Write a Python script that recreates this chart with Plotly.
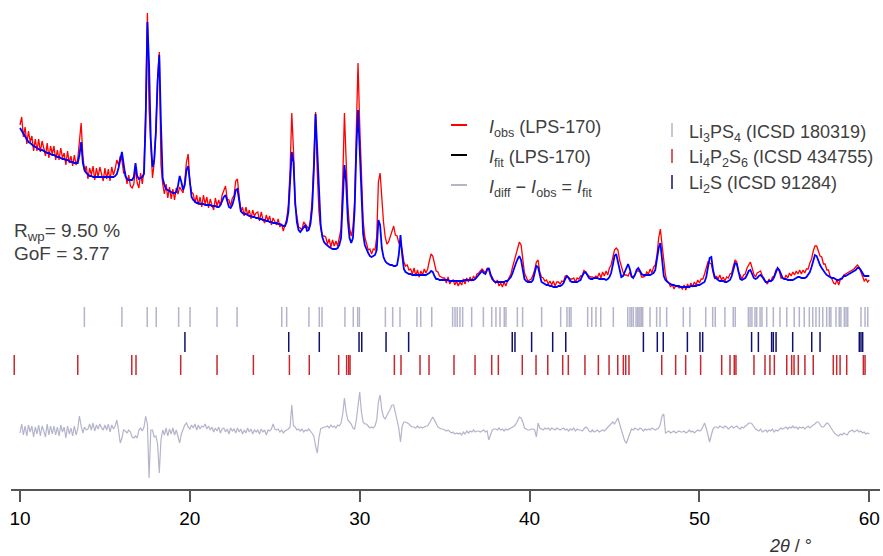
import numpy as np
import plotly.graph_objects as go

# ---------------- data ----------------
scan_start, scan_step, n_points = 10.0, 0.1, 501
two_theta = np.round(scan_start + scan_step * np.arange(n_points), 1)

I_obs = [
    175, 183, 163, 173, 156, 169, 158, 164, 149, 161,
    149, 161, 148, 159, 152, 144, 157, 142, 154, 146,
    154, 140, 150, 140, 152, 142, 147, 135, 149, 137,
    144, 134, 145, 135, 141, 160, 177, 145, 128, 134,
    121, 132, 125, 134, 120, 132, 123, 133, 126, 119,
    132, 121, 131, 119, 133, 125, 131, 140, 135, 144,
    140, 127, 128, 116, 125, 114, 112, 116, 132, 117,
    112, 127, 116, 131, 193, 287, 190, 150, 122, 137,
    170, 222, 248, 135, 116, 106, 116, 102, 113, 101,
    111, 100, 112, 106, 113, 110, 107, 119, 138, 146,
    118, 108, 106, 97, 105, 95, 103, 93, 105, 96,
    103, 92, 101, 95, 90, 102, 94, 100, 94, 105,
    109, 114, 101, 100, 94, 102, 104, 119, 121, 104,
    88, 93, 84, 93, 85, 90, 81, 90, 84, 87,
    88, 79, 88, 81, 77, 85, 79, 84, 75, 82,
    79, 75, 81, 73, 76, 69, 75, 81, 95, 130,
    187, 150, 95, 82, 73, 72, 70, 78, 76, 74,
    71, 81, 100, 140, 188, 128, 88, 72, 64, 64,
    63, 56, 61, 53, 60, 54, 59, 54, 61, 71,
    120, 187, 140, 95, 72, 64, 72, 98, 170, 237,
    175, 115, 80, 63, 57, 50, 51, 46, 51, 50,
    63, 118, 127, 100, 78, 63, 56, 58, 64, 70,
    74, 65, 64, 57, 56, 50, 38, 34, 35, 30,
    31, 26, 32, 24, 30, 23, 29, 25, 31, 27,
    31, 39, 46, 44, 37, 29, 28, 24, 23, 22,
    22, 17, 23, 16, 19, 20, 15, 19, 14, 18,
    15, 21, 16, 22, 18, 23, 19, 24, 21, 26,
    27, 29, 31, 29, 27, 32, 30, 24, 23, 19,
    17, 20, 14, 17, 13, 18, 14, 19, 22, 26,
    33, 40, 45, 52, 58, 55, 40, 27, 23, 19,
    20, 21, 25, 30, 38, 40, 28, 23, 22, 19,
    20, 16, 19, 15, 19, 14, 18, 18, 16, 19,
    18, 24, 24, 22, 21, 21, 22, 18, 22, 21,
    24, 24, 30, 27, 25, 24, 23, 23, 22, 24,
    23, 27, 22, 28, 24, 29, 25, 32, 35, 44,
    50, 52, 50, 40, 33, 28, 25, 25, 24, 28,
    23, 23, 25, 29, 29, 28, 23, 23, 24, 28,
    26, 31, 27, 33, 35, 45, 62, 71, 55, 38,
    25, 18, 17, 13, 16, 11, 14, 14, 12, 13,
    11, 15, 10, 16, 12, 17, 13, 18, 15, 20,
    17, 21, 21, 26, 31, 38, 37, 36, 28, 21,
    24, 21, 25, 20, 23, 19, 23, 22, 26, 27,
    34, 40, 38, 28, 25, 21, 25, 26, 32, 35,
    38, 32, 26, 23, 27, 28, 29, 24, 22, 18,
    16, 21, 18, 23, 24, 30, 31, 29, 22, 22,
    21, 25, 22, 27, 24, 28, 25, 29, 26, 30,
    26, 30, 27, 31, 31, 37, 41, 49, 54, 54,
    49, 44, 43, 36, 36, 30, 30, 23, 21, 17,
    16, 20, 15, 21, 21, 25, 26, 27, 28, 29,
    30, 31, 33, 35, 33, 28, 22, 19, 21, 18,
    20,
]

I_fit = [
    172, 169, 166, 163, 160, 158, 157, 155, 154, 153,
    152, 151, 150, 150, 149, 148, 147, 147, 146, 145,
    145, 144, 143, 143, 142, 141, 141, 140, 140, 139,
    138, 138, 137, 137, 137, 145, 158, 137, 130, 127,
    125, 124, 124, 123, 123, 123, 123, 123, 123, 123,
    123, 123, 123, 123, 123, 123, 124, 126, 132, 142,
    148, 136, 124, 121, 120, 120, 120, 123, 137, 124,
    121, 122, 123, 126, 180, 278, 235, 160, 133, 140,
    168, 218, 245, 175, 122, 115, 111, 110, 109, 108,
    107, 107, 108, 114, 124, 118, 110, 115, 130, 134,
    116, 103, 100, 98, 97, 97, 96, 96, 96, 95,
    95, 95, 95, 94, 94, 94, 93, 93, 95, 99,
    103, 105, 99, 93, 92, 95, 101, 110, 111, 98,
    89, 87, 86, 86, 85, 84, 84, 83, 83, 82,
    82, 81, 81, 80, 80, 79, 79, 78, 78, 77,
    77, 77, 76, 76, 75, 74, 74, 78, 88, 115,
    148, 138, 98, 78, 70, 68, 70, 73, 75, 69,
    70, 76, 92, 130, 186, 150, 105, 75, 63, 58,
    56, 54, 53, 52, 51, 51, 51, 52, 55, 62,
    95, 135, 118, 80, 62, 57, 62, 90, 150, 190,
    150, 100, 66, 55, 50, 47, 44, 43, 44, 45,
    50, 80, 75, 52, 43, 39, 37, 36, 35, 35,
    34, 34, 35, 45, 65, 45, 31, 28, 27, 26,
    26, 25, 25, 25, 25, 25, 25, 25, 25, 25,
    26, 27, 29, 28, 24, 21, 21, 20, 20, 20,
    20, 20, 20, 19, 19, 19, 19, 19, 19, 19,
    19, 19, 20, 20, 20, 20, 20, 20, 21, 23,
    25, 27, 29, 27, 26, 30, 32, 26, 21, 19,
    18, 18, 18, 18, 18, 18, 19, 19, 21, 23,
    27, 33, 37, 41, 44, 40, 28, 21, 19, 18,
    18, 18, 20, 26, 34, 33, 24, 18, 17, 16,
    15, 15, 14, 14, 13, 13, 13, 14, 14, 15,
    17, 21, 24, 22, 19, 18, 18, 18, 18, 19,
    20, 24, 27, 28, 25, 22, 21, 21, 22, 22,
    22, 21, 21, 21, 21, 20, 21, 23, 27, 35,
    44, 46, 38, 28, 23, 24, 28, 33, 36, 31,
    24, 22, 25, 30, 32, 29, 26, 25, 25, 25,
    25, 25, 26, 27, 30, 40, 52, 57, 36, 24,
    20, 18, 17, 16, 15, 15, 14, 14, 14, 13,
    13, 13, 13, 13, 13, 14, 14, 14, 14, 15,
    15, 16, 17, 18, 23, 32, 42, 43, 30, 23,
    21, 20, 19, 19, 19, 18, 18, 19, 20, 24,
    30, 37, 36, 27, 21, 20, 21, 22, 25, 29,
    30, 26, 22, 21, 22, 24, 25, 23, 20, 18,
    18, 19, 19, 20, 23, 28, 32, 30, 25, 22,
    21, 21, 20, 20, 20, 20, 21, 22, 23, 23,
    22, 22, 22, 23, 25, 28, 33, 40, 45, 44,
    39, 35, 32, 29, 27, 25, 24, 23, 22, 22,
    21, 20, 20, 21, 22, 24, 24, 25, 26, 27,
    28, 29, 30, 32, 32, 30, 27, 24, 24, 24,
    24,
]

# difference curve as drawn (same intensity units)
I_diff = [
    -1, 8, -3, 6, -4, 7, 0, 6, -5, 5,
    -2, 7, -4, 6, 1, -5, 8, -3, 6, -2,
    6, -3, 5, -4, 7, 0, 5, -6, 6, -2,
    4, -4, 6, -3, 3, 16, 6, -1, 5, 2,
    3, 8, 2, 9, 1, 7, 3, 8, 4, 2,
    7, 2, 8, 0, 7, 3, 6, 12, 2, -11,
    -6, 2, 1, -1, 2, 0, -5, -6, -4, -6,
    2, 4, 1, 5, 16, 8, -46, 2, 2, -5,
    -4, -12, -41, -8, 2, -3, 4, -4, 3, -2,
    4, -3, 2, -5, -11, -2, 3, 7, 9, 5,
    3, 7, 4, 8, 2, 7, 3, 6, 5, 8,
    3, 6, 2, 5, 0, 4, 1, 5, -1, 3,
    4, 0, 3, -2, 4, 1, 3, -1, 4, 0,
    3, -2, 2, -1, 4, 0, 3, -2, 2, 0,
    2, -2, 3, 0, 2, -3, 2, 1, 3, 8,
    3, 2, 3, 0, 2, -1, 1, 2, 3, 5,
    27, 6, 5, 2, 3, 1, 3, 0, 2, 1,
    3, 1, -2, -4, -14, -21, -6, 3, 4, 5,
    5, 6, 4, 7, 5, 6, 4, 7, 6, 9,
    18, 34, 20, 12, 10, 8, 4, 3, 12, 28,
    40, 20, 10, 8, 8, 6, 4, 5, 4, 6,
    12, 30, 37, 22, 15, 13, 17, 20, 23, 27,
    27, 20, 12, 4, -10, 6, 10, 10, 9, 8,
    6, 5, 5, 4, 6, 4, 5, 4, 5, 6,
    6, 9, 13, 15, 12, 8, 5, 4, 3, 3,
    2, 1, 2, 0, -1, 0, -2, -1, -2, -1,
    -3, 0, -2, 1, -1, 1, 0, 2, 0, 1,
    1, 0, 1, 2, 0, 1, -8, -2, 2, 3,
    3, 2, 4, 2, 3, 1, 3, 2, 3, 4,
    5, 6, 8, 12, 15, 14, 10, 4, 3, 2,
    2, 3, 3, 2, -5, 9, 4, 3, 2, 4,
    3, 4, 2, 4, 3, 2, 4, 3, 2, 3,
    4, 2, 3, 1, 3, 2, 4, 1, 3, 2,
    2, 1, 3, 5, 4, 1, 0, 2, 0, 1,
    2, 0, 1, 2, 1, 3, 4, 6, 8, 10,
    8, 11, 14, 8, 2, -4, -9, -11, -6, 0,
    3, 2, 4, 3, 2, 4, 3, 1, 3, 2,
    3, 2, 4, 3, 2, 3, 4, 8, 16, 18,
    -1, 0, 1, -1, 0, 1, -1, 0, 1, 0,
    0, 1, -1, 0, 2, 0, 1, -1, 1, 2,
    1, 2, 5, 9, 4, -4, -10, -3, 3, 5,
    5, 4, 6, 5, 4, 6, 5, 3, 5, 6,
    4, 5, 6, 4, 3, 5, 4, 6, 7, 9,
    9, 8, 5, 3, 2, 1, 3, 0, 1, 2,
    0, 2, 1, 3, 0, 2, 1, 3, 4, 3,
    4, 5, 3, 5, 4, 6, 4, 5, 3, 5,
    4, 5, 3, 5, 6, 4, 6, 7, 8, 10,
    10, 7, 5, 5, 7, 9, 8, 5, 2, 0,
    -2, -3, -4, -2, -3, -1, -2, -3, 0, 1,
    2, 0, 1, 2, 0, 1, -1, 0, -2, -1,
    -2,
]

# reflection positions (2theta / deg)
refl_Li3PS4 = [
    13.79, 16.00, 17.49, 18.02, 19.34, 20.01, 21.60, 22.78, 25.41, 25.70,
    27.01, 27.62, 27.78, 29.13, 29.62, 29.88, 29.98, 31.51, 31.94, 32.37,
    33.37, 33.59, 34.24, 35.47, 35.61, 35.74, 35.90, 36.06, 36.59, 37.28,
    37.77, 38.02, 38.26, 38.51, 38.61, 39.28, 39.59, 40.71, 41.83, 42.20,
    42.34, 42.44, 43.42, 43.66, 43.91, 44.19, 44.93, 45.78, 45.91, 46.01,
    46.11, 46.27, 46.36, 46.44, 46.50, 46.58, 46.66, 47.09, 47.48, 47.68,
    48.07, 49.05, 49.44, 50.37, 50.78, 50.93, 51.50, 51.99, 52.11, 52.88,
    52.98, 53.09, 53.27, 53.37, 53.57, 53.68, 53.96, 54.35, 54.74, 55.14,
    55.58, 55.88, 56.17, 56.47, 56.67, 56.86, 57.06, 57.26, 57.49, 57.65,
    57.74, 58.04, 58.23, 58.33, 58.53, 58.63, 58.73, 59.51, 59.75, 59.91,
]
refl_Li2S = [
    19.71, 25.82, 27.62, 29.96, 30.12, 31.55, 32.88, 38.98, 39.14, 40.12,
    41.36, 42.13, 46.70, 47.52, 47.87, 49.29, 50.03, 50.19, 53.07, 53.47,
    54.25, 54.35, 54.51, 55.49, 56.61, 57.10, 59.41, 59.51, 59.61,
]
refl_Li4P2S6 = [
    9.66, 13.40, 16.58, 16.83, 19.46, 21.60, 23.74, 25.86, 27.03, 28.76,
    29.23, 29.35, 29.43, 32.04, 32.43, 33.55, 34.08, 35.55, 36.79, 37.77,
    38.16, 39.57, 40.38, 41.07, 41.95, 42.28, 43.26, 44.05, 44.68, 45.19,
    45.52, 45.66, 45.85, 47.78, 48.60, 49.19, 50.07, 51.31, 51.80, 52.05,
    52.15, 53.21, 53.86, 54.15, 54.41, 55.14, 55.43, 55.57, 55.82, 56.21,
    56.70, 57.88, 58.08, 58.28, 58.67, 59.65, 59.75,
]

tick_values = [10, 20, 30, 40, 50, 60]

# ---------------- layout helpers ----------------
OBS_OFFSET = 189      # vertical offset of observed / fitted pattern
DIFF_OFFSET = 57      # vertical offset of difference curve
ROW_Li3PS4 = (162, 182)
ROW_Li2S = (137, 157)
ROW_Li4P2S6 = (114, 134)

PAGE = 0                       # page margin removed by the post script below
W, H = 883, 556
ML, MR, MT, MB = 11, 3, 8, 67
PW, PH = W - ML - MR, H - MT - MB

C_OBS = "#ff0000"
C_FIT = "#0000ff"
C_DIFF = "#b4b4cc"
C_L3 = "#b4b4cc"
C_L4 = "#c8282d"
C_L2 = "#10106e"
TXT = "#404040"
FONT = "Arial, Liberation Sans, Helvetica, sans-serif"


def px_x(px):
    return (px - PAGE - ML) / PW


def px_y(py):
    return (H - MB - (py - PAGE)) / PH


def tick_segments(pos, row):
    xs, ys = [], []
    for p in pos:
        xs += [p, p, None]
        ys += [row[0], row[1], None]
    return xs, ys


obs = np.array(I_obs, dtype=float)
fit = np.array(I_fit, dtype=float)
diff = np.array(I_diff, dtype=float)

fig = go.Figure()
fig.add_trace(go.Scatter(x=two_theta, y=DIFF_OFFSET + diff, mode="lines",
                         line=dict(color=C_DIFF, width=1.2), showlegend=False))
for pos, row, col in [(refl_Li3PS4, ROW_Li3PS4, C_L3),
                      (refl_Li2S, ROW_Li2S, C_L2),
                      (refl_Li4P2S6, ROW_Li4P2S6, C_L4)]:
    xs, ys = tick_segments(pos, row)
    fig.add_trace(go.Scatter(x=xs, y=ys, mode="lines",
                             line=dict(color=col, width=1.5), showlegend=False))
fig.add_trace(go.Scatter(x=two_theta, y=OBS_OFFSET + obs, mode="lines",
                         line=dict(color=C_OBS, width=1.3), showlegend=False))
fig.add_trace(go.Scatter(x=two_theta, y=OBS_OFFSET + fit, mode="lines",
                         line=dict(color=C_FIT, width=1.8), showlegend=False))

shapes = []
annotations = []

# legend 1 (curves)
leg1 = [
    (125, C_OBS, "<i>I</i><sub>obs</sub> (LPS-170)"),
    (155, "#000000", "<i>I</i><sub>fit</sub> (LPS-170)"),
    (185, C_DIFF, "<i>I</i><sub>diff</sub> \u2212 <i>I</i><sub>obs</sub> = <i>I</i><sub>fit</sub>"),
]
for yy, col, txt in leg1:
    shapes.append(dict(type="line", xref="paper", yref="paper",
                       x0=px_x(451), x1=px_x(467), y0=px_y(yy), y1=px_y(yy),
                       line=dict(color=col, width=2)))
    annotations.append(dict(xref="paper", yref="paper", x=px_x(487), y=px_y(yy + 3),
                            xanchor="left", yanchor="middle", text=txt, showarrow=False,
                            font=dict(family=FONT, size=18, color=TXT)))

# legend 2 (phases)
leg2 = [
    (130, C_L3, "Li<sub>3</sub>PS<sub>4</sub> (ICSD 180319)"),
    (156, C_L4, "Li<sub>4</sub>P<sub>2</sub>S<sub>6</sub> (ICSD 434755)"),
    (182, C_L2, "Li<sub>2</sub>S (ICSD 91284)"),
]
for yy, col, txt in leg2:
    shapes.append(dict(type="line", xref="paper", yref="paper",
                       x0=px_x(672), x1=px_x(672), y0=px_y(yy - 7), y1=px_y(yy + 7),
                       line=dict(color=col, width=1.5)))
    annotations.append(dict(xref="paper", yref="paper", x=px_x(687), y=px_y(yy + 3),
                            xanchor="left", yanchor="middle", text=txt, showarrow=False,
                            font=dict(family=FONT, size=18, color=TXT)))

# fit statistics
annotations.append(dict(xref="paper", yref="paper", x=px_x(12), y=px_y(232),
                        xanchor="left", yanchor="middle", text="R<sub>wp</sub>= 9.50 %",
                        showarrow=False, font=dict(family=FONT, size=19, color=TXT)))
annotations.append(dict(xref="paper", yref="paper", x=px_x(12), y=px_y(253),
                        xanchor="left", yanchor="middle", text="GoF = 3.77",
                        showarrow=False, font=dict(family=FONT, size=19, color=TXT)))
# axis title
annotations.append(dict(xref="paper", yref="paper", x=px_x(790), y=px_y(546),
                        xanchor="center", yanchor="middle", text="<i>2\u03b8</i> / \u00b0",
                        showarrow=False, font=dict(family=FONT, size=18, color="#333333")))

x_lo = 10 - (20 - PAGE - ML) / 16.986
x_hi = 10 + (W - MR - 20) / 16.986

fig.update_layout(
    width=W, height=H,
    margin=dict(l=ML, r=MR, t=MT, b=MB),
    paper_bgcolor="white", plot_bgcolor="white",
    showlegend=False, hovermode=False,
    shapes=shapes, annotations=annotations,
    xaxis=dict(range=[x_lo, x_hi], showgrid=False, zeroline=False,
               showline=True, linecolor="#555555", linewidth=1.5,
               ticks="outside", ticklen=11, tickwidth=1.5, tickcolor="#555555",
               tickvals=tick_values, ticktext=[str(t) for t in tick_values],
               tickfont=dict(family=FONT, size=19, color="#000000")),
    yaxis=dict(range=[0, PH], visible=False, showgrid=False, zeroline=False),
)

fig.write_html(
    "out.html",
    config={"displayModeBar": False},
    post_script="document.body.style.margin='0';document.body.style.overflow='hidden';",
)
